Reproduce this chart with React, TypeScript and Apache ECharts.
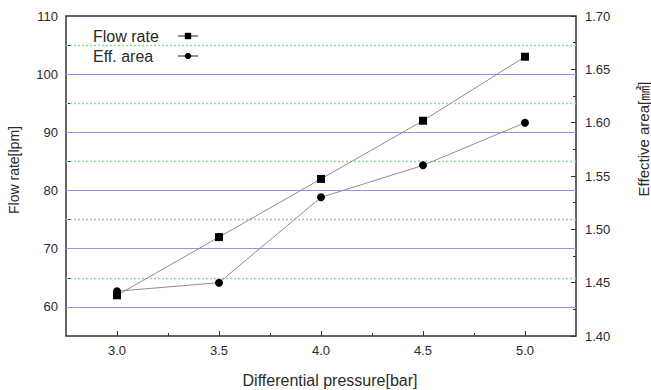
import React, { useEffect, useRef } from "react";
import * as echarts from "echarts";

const pressure = [3.0, 3.5, 4.0, 4.5, 5.0];
const flowRate = [62, 72, 82, 92, 103];
const effArea = [1.442, 1.45, 1.53, 1.56, 1.6];

const xLabelValues = [3.0, 3.5, 4.0, 4.5, 5.0];
const xMinorTicks = [3.25, 3.75, 4.25, 4.75];
const leftLabelValues = [60, 70, 80, 90, 100, 110];
const leftTickValues = [60, 65, 70, 75, 80, 85, 90, 95, 100, 105];
const majorGridValues = [60, 70, 80, 90, 100];
const minorGridValues = [65, 75, 85, 95, 105];

const FONT = '"Liberation Sans", Arial, Helvetica, "Noto Sans CJK KR", sans-serif';
const TXT = "#2a2a2a";

function gridSeries(name: string, value: number, lineStyle: any) {
  return {
    name,
    type: "line",
    xAxisIndex: 0,
    yAxisIndex: 0,
    data: [],
    z: 1,
    silent: true,
    markLine: {
      silent: true,
      z: 1,
      symbol: ["none", "none"],
      label: { show: false },
      animation: false,
      lineStyle,
      data: [{ yAxis: value }],
    },
  };
}

export default function App() {
  const ref = useRef<HTMLDivElement>(null);
  useEffect(() => {
    if (!ref.current) return;
    const chart = echarts.init(ref.current, null, { renderer: "svg" });
    const option: any = {
      animation: false,
      backgroundColor: "#ffffff",
      textStyle: { fontFamily: FONT },
      grid: {
        left: 66,
        right: 75,
        top: 16,
        bottom: 54,
        show: true,
        borderColor: "#333",
        borderWidth: 1.5,
        backgroundColor: "transparent",
      },
      legend: {
        data: ["Flow rate", "Eff. area"],
        orient: "vertical",
        align: "right",
        left: 88,
        top: 23,
        itemGap: 4,
        itemWidth: 20,
        itemHeight: 8,
        formatter: (name: string) => `{t|${name}}`,
        textStyle: {
          fontSize: 16,
          color: TXT,
          fontFamily: FONT,
          rich: {
            t: { width: 80, align: "left", fontSize: 16, color: TXT, fontFamily: FONT },
          },
        },
      },
      xAxis: [
        {
          type: "value",
          min: 2.75,
          max: 5.25,
          axisLine: { show: false },
          splitLine: { show: false },
          axisTick: {
            show: true,
            inside: true,
            length: 5,
            customValues: xLabelValues,
            lineStyle: { color: "#333" },
          },
          axisLabel: {
            customValues: xLabelValues,
            formatter: (v: number) => v.toFixed(1),
            margin: 8,
            fontSize: 13,
            color: TXT,
          },
        },
        {
          type: "value",
          min: 2.75,
          max: 5.25,
          position: "bottom",
          axisLine: { show: false },
          splitLine: { show: false },
          axisLabel: { show: false },
          axisTick: {
            show: true,
            inside: true,
            length: 3,
            customValues: xMinorTicks,
            lineStyle: { color: "#333" },
          },
        },
      ],
      yAxis: [
        {
          type: "value",
          min: 55,
          max: 110,
          position: "left",
          axisLine: { show: false },
          splitLine: { show: false },
          axisTick: {
            show: true,
            inside: true,
            length: 5,
            customValues: leftTickValues,
            lineStyle: { color: "#333" },
          },
          axisLabel: {
            customValues: leftLabelValues,
            margin: 8,
            fontSize: 13,
            color: TXT,
          },
        },
        {
          type: "value",
          min: 1.4,
          max: 1.7,
          interval: 0.05,
          position: "right",
          axisLine: { show: false },
          splitLine: { show: false },
          axisTick: {
            show: true,
            inside: true,
            length: 5,
            lineStyle: { color: "#333" },
          },
          minorTick: {
            show: true,
            splitNumber: 2,
            length: 3,
            lineStyle: { color: "#333" },
          },
          minorSplitLine: { show: false },
          axisLabel: {
            formatter: (v: number) => v.toFixed(2),
            margin: 9,
            fontSize: 13,
            color: TXT,
          },
        },
      ],
      series: [
        ...majorGridValues.map((v, i) =>
          gridSeries("major" + i, v, { color: "#9292ea", type: "solid", width: 1 })
        ),
        ...minorGridValues.map((v, i) =>
          gridSeries("minor" + i, v, { color: "#8edc8e", type: [2, 2], width: 1.4 })
        ),
        {
          name: "Flow rate",
          type: "line",
          xAxisIndex: 0,
          yAxisIndex: 0,
          data: pressure.map((p, i) => [p, flowRate[i]]),
          symbol: "rect",
          symbolSize: 8,
          itemStyle: { color: "#000" },
          lineStyle: { color: "#8e8e8e", width: 1 },
          z: 3,
        },
        {
          name: "Eff. area",
          type: "line",
          xAxisIndex: 0,
          yAxisIndex: 1,
          data: pressure.map((p, i) => [p, effArea[i]]),
          symbol: "circle",
          symbolSize: 8,
          itemStyle: { color: "#000" },
          lineStyle: { color: "#8e8e8e", width: 1 },
          z: 3,
        },
      ],
      graphic: [
        {
          type: "text",
          x: 14,
          y: 170,
          rotation: Math.PI / 2,
          style: {
            text: "Flow rate[lpm]",
            fontSize: 14,
            fontFamily: FONT,
            fill: TXT,
            align: "center",
            verticalAlign: "middle",
          },
        },
        {
          type: "text",
          x: 643,
          y: 139,
          rotation: Math.PI / 2,
          style: {
            text: "Effective area[㎟]",
            fontSize: 15,
            fontFamily: FONT,
            fill: TXT,
            align: "center",
            verticalAlign: "middle",
          },
        },
        {
          type: "text",
          x: 330,
          y: 380,
          style: {
            text: "Differential pressure[bar]",
            fontSize: 16,
            fontFamily: FONT,
            fill: TXT,
            align: "center",
            verticalAlign: "middle",
          },
        },
      ],
    };
    chart.setOption(option);
    return () => chart.dispose();
  }, []);
  return (
    <div
      ref={ref}
      style={{ position: "absolute", left: 0, top: 0, width: 651, height: 390 }}
    />
  );
}
